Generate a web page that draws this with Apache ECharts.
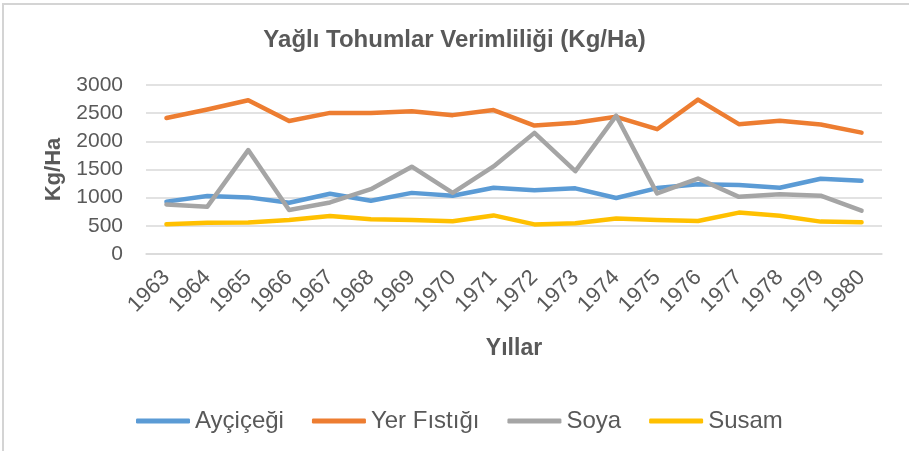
<!DOCTYPE html>
<html>
<head>
<meta charset="utf-8">
<title>Yağlı Tohumlar Verimliliği</title>
<script src="https://cdn.jsdelivr.net/npm/echarts@6/dist/echarts.min.js"></script>
<style>
  html, body { margin: 0; padding: 0; background: #fff; }
  #chart { width: 909px; height: 451px; }
</style>
</head>
<body>
<div id="chart"></div>
<script>
// veriler
var yillar = ['1963', '1964', '1965', '1966', '1967', '1968', '1969', '1970', '1971',
  '1972', '1973', '1974', '1975', '1976', '1977', '1978', '1979', '1980'];
var aycicegi = [930, 1030, 1005, 910, 1070, 945, 1085, 1035, 1175, 1130, 1165, 995, 1170, 1240, 1225, 1175, 1335, 1300];
var yerFistigi = [2415, 2565, 2730, 2360, 2505, 2505, 2535, 2465, 2555, 2280, 2330, 2435, 2215, 2740, 2305, 2365, 2300, 2155];
var soya = [880, 840, 1845, 780, 915, 1150, 1550, 1085, 1555, 2150, 1470, 2455, 1075, 1340, 1015, 1060, 1035, 770];
var susam = [530, 555, 560, 605, 675, 615, 605, 580, 685, 525, 545, 630, 605, 585, 735, 680, 575, 565];

var yazi = "'Liberation Sans', Arial, sans-serif";
var gri = '#595959';

function seri(ad, veri, renk) {
  return {
    name: ad,
    type: 'line',
    data: veri,
    showSymbol: false,
    symbol: 'none',
    lineStyle: { color: renk, width: 4.5, cap: 'round', join: 'round' },
    itemStyle: { color: renk }
  };
}

var chart = echarts.init(document.getElementById('chart'));
chart.setOption({
  animation: false,
  backgroundColor: '#fff',
  graphic: [{
    type: 'polyline',
    shape: { points: [[3, 460], [3, 4], [920, 4]] },
    style: { stroke: '#d4d4d4', lineWidth: 2, fill: null }
  }],
  title: {
    text: 'Yağlı Tohumlar Verimliliği (Kg/Ha)',
    left: 'center',
    top: 23,
    textStyle: { fontFamily: yazi, fontSize: 24, fontWeight: 'bold', color: gri }
  },
  legend: {
    left: 131,
    top: 404,
    itemWidth: 54,
    itemHeight: 5,
    itemGap: 28,
    icon: 'roundRect',
    textStyle: { fontFamily: yazi, fontSize: 24, color: gri },
    data: ['Ayçiçeği', 'Yer Fıstığı', 'Soya', 'Susam']
  },
  grid: { left: 146, right: 27, top: 85, bottom: 197 },
  xAxis: {
    type: 'category',
    data: yillar,
    boundaryGap: true,
    name: 'Yıllar',
    nameLocation: 'middle',
    nameGap: 83,
    nameTextStyle: { fontFamily: yazi, fontSize: 23, fontWeight: 'bold', color: gri },
    axisLine: { lineStyle: { color: '#d9d9d9', width: 1.5 } },
    axisTick: { show: false },
    axisLabel: {
      rotate: 45,
      margin: 20,
      interval: 0,
      fontFamily: yazi,
      fontSize: 22,
      color: gri
    }
  },
  yAxis: {
    type: 'value',
    min: 0,
    max: 3000,
    interval: 500,
    name: 'Kg/Ha',
    nameLocation: 'middle',
    nameRotate: 90,
    nameGap: 80,
    nameTextStyle: { fontFamily: yazi, fontSize: 22, fontWeight: 'bold', color: gri },
    axisLine: { show: false },
    axisTick: { show: false },
    axisLabel: {
      margin: 23,
      fontFamily: yazi,
      fontSize: 21,
      color: gri,
      formatter: function (v) { return String(v); }
    },
    splitLine: { lineStyle: { color: '#d9d9d9', width: 1.5 } }
  },
  series: [
    seri('Ayçiçeği', aycicegi, '#5b9bd5'),
    seri('Yer Fıstığı', yerFistigi, '#ed7d31'),
    seri('Soya', soya, '#a5a5a5'),
    seri('Susam', susam, '#ffc000')
  ]
});
</script>
</body>
</html>
